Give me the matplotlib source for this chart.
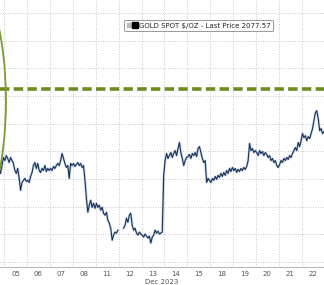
import matplotlib
matplotlib.use("Agg")
import matplotlib.pyplot as plt
import numpy as np
from matplotlib.patches import Ellipse
from matplotlib.lines import Line2D
from matplotlib.legend_handler import HandlerTuple

dayLabels = ['05', '06', '07', '08', '11', '12', '13', '14', '15', '18', '19', '20', '21', '22']

# intraday gold spot prices, one list per trading day (Dec 4 is mostly off-screen)
dec04 = [2072, 2110, 2135, 2090, 2070, 2060, 2050, 2045, 2042, 2040, 2035, 2030, 2028, 2024.0, 2029.7, 2035.5]
dec05 = [2033.3, 2036.9, 2034.8, 2031.9, 2035.5, 2033.3, 2031.2, 2026.1, 2024.0, 2027.6, 2020.4, 2011.8, 2017.5, 2019.0, 2020.4, 2018.2]
dec06 = [2019.0, 2017.5, 2021.8, 2024.7, 2029.7, 2031.9, 2027.6, 2031.2, 2026.1, 2024.7, 2027.6, 2026.1, 2029.7, 2025.4, 2027.6, 2026.1]
dec07 = [2027.6, 2026.1, 2029.0, 2027.6, 2029.7, 2031.2, 2029.7, 2033.3, 2038.4, 2034.8, 2031.2, 2028.3, 2029.7, 2020.4, 2031.2, 2029.7]
dec08 = [2031.2, 2029.0, 2030.4, 2031.9, 2029.7, 2031.2, 2028.3, 2029.7, 2019.0, 2006.0, 1996.0, 2001.0, 2004.6, 1999.5, 2002.4, 1998.8]
dec11 = [2002.4, 1999.5, 2001.0, 1997.4, 1999.5, 1995.2, 1993.8, 1995.9, 1990.2, 1988.0, 1984.4, 1975.8, 1979.4, 1981.6, 1980.9, 1983.0]
dec12 = [np.nan, np.nan, np.nan, 1984.4, 1986.6, 1991.6, 1988.7, 1993.8, 1995.2, 1986.6, 1983.0, 1984.4, 1980.9, 1979.4, 1981.6, 1980.2]
dec13 = [1979.4, 1978.0, 1980.2, 1978.7, 1977.3, 1978.7, 1973.7, 1978.0, 1979.4, 1983.0, 1980.9, 1982.3, 1980.2, 1980.9, 1981.6, 2022.6]
dec14 = [2033.3, 2038.4, 2034.8, 2036.9, 2039.1, 2035.5, 2038.4, 2040.5, 2036.9, 2042.0, 2046.3, 2039.1, 2034.8, 2029.7, 2033.3, 2035.5]
dec15 = [2036.2, 2037.7, 2034.8, 2038.4, 2036.9, 2039.1, 2036.2, 2042.0, 2043.4, 2039.1, 2034.8, 2031.9, 2033.3, 2017.5, 2020.4, 2019.0]
dec18 = [2017.5, 2020.4, 2019.0, 2021.8, 2019.7, 2022.6, 2021.1, 2024.0, 2021.8, 2024.7, 2022.6, 2026.1, 2024.0, 2027.6, 2025.4, 2028.3]
dec19 = [2026.1, 2027.6, 2024.7, 2026.9, 2025.4, 2027.6, 2026.1, 2028.3, 2026.9, 2029.0, 2033.3, 2045.6, 2040.5, 2042.0, 2039.1, 2040.5]
dec20 = [2039.1, 2036.9, 2040.5, 2038.4, 2039.8, 2036.9, 2039.1, 2037.7, 2035.5, 2036.9, 2033.3, 2034.8, 2031.9, 2033.3, 2029.7, 2028.3]
dec21 = [2030.4, 2033.3, 2031.9, 2034.8, 2033.3, 2035.5, 2034.1, 2036.9, 2035.5, 2038.4, 2040.5, 2042.7, 2040.5, 2046.3, 2043.4, 2047.7]
dec22 = [2052.8, 2049.9, 2051.3, 2047.7, 2050.6, 2049.2, 2052.8, 2056.4, 2062.1, 2067.9, 2069.3, 2063.6, 2054.9, 2056.4, 2052.8, 2054.2]

days = [dec04, dec05, dec06, dec07, dec08, dec11, dec12, dec13, dec14, dec15, dec18, dec19, dec20, dec21, dec22]
highLevel = 2085
lastPrice = 2077.57

xs = []
ys = []
for i, day in enumerate(days):
    n = len(day)
    xs.extend((i - 1) + (np.arange(n) + 0.5) / n)
    ys.extend(day)
xs = np.array(xs)
ys = np.array(ys)

fig = plt.figure(figsize=(3.24, 2.85), dpi=100)
ax = fig.add_axes([0, 0.0632, 1, 0.9368])

# grid
for y in np.arange(1960, 2160, 20):
    ax.axhline(y, color='#b5b5b5', lw=0.6, ls=(0, (1, 2)), zorder=0)
for d in range(0, 15):
    ax.axvline(d, color='#b5b5b5', lw=0.6, ls=(0, (1, 2)), zorder=0)

# price line
ax.plot(xs, ys, color='#8fb8dc', lw=1.8, alpha=0.5, zorder=2)
ax.plot(xs, ys, color='#1c2e52', lw=0.8, zorder=3)

# previous high and circled spike
ax.axhline(highLevel, color='#6b8c1e', lw=2.6, dashes=(2.6, 1.2), zorder=4)
ax.add_patch(Ellipse((-1.49, 2076.5), 3.14, 177, fill=False, edgecolor='#7a9c32', lw=1.3, zorder=5))

ax.set_xlim(-0.18, 13.97)
ax.set_ylim(1956.4, 2149.3)
ax.set_yticks([])
ax.set_xticks(np.arange(len(dayLabels)) + 0.5)
ax.set_xticklabels(dayLabels, fontsize=5, color='#555555')
ax.tick_params(axis='x', length=0, pad=3)
ax.set_xlabel('Dec 2023', fontsize=5, color='#555555', labelpad=1)
for s in ['top', 'left', 'right']:
    ax.spines[s].set_visible(False)
ax.spines['bottom'].set_color('#aaaaaa')
ax.spines['bottom'].set_linewidth(0.6)

h1 = Line2D([], [], marker='s', color='none', markerfacecolor='#bbbbbb', markeredgecolor='#bbbbbb', markersize=2.5)
h2 = Line2D([], [], marker='s', color='none', markerfacecolor='black', markeredgecolor='black', markersize=4.5)
leg = ax.legend([(h1, h2)], [f'GOLD SPOT $/OZ - Last Price {lastPrice:.2f}'],
                handler_map={tuple: HandlerTuple(ndivide=None, pad=0.2)},
                loc='center', bbox_to_anchor=(0.614, 0.904), fontsize=5,
                frameon=True, fancybox=True, edgecolor='#888888', framealpha=1,
                handlelength=1.4, handletextpad=0.3, borderpad=0.4, labelcolor='#222222')
leg.get_frame().set_linewidth(0.6)
leg.set_zorder(6)

fig.savefig('out.png', dpi=100)
